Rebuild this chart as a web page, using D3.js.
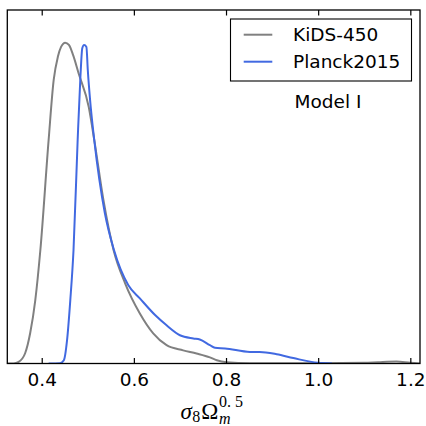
<!DOCTYPE html>
<html><head><meta charset="utf-8">
<script src="https://cdn.jsdelivr.net/npm/d3@7"></script>
<style>html,body{margin:0;padding:0;background:#fff;}</style>
</head><body>
<svg id="c" width="426" height="426"></svg>
<script>
// Data (x: sigma8*Omega_m^0.5, y: normalised posterior)
const kidsX = [0.325,0.339,0.350,0.364,0.375,0.386,0.397,0.415,0.426,0.435,0.442,0.451,0.459,0.468,0.480,0.502,0.514,0.534,0.556,0.581,0.613,0.642,0.671,0.707,0.736,0.765,0.780,0.801,0.852,0.90,1.00,1.10,1.13,1.17,1.20,1.221];
const kidsY = [0,0,0.005,0.032,0.095,0.197,0.353,0.697,0.884,0.956,0.987,1.0,0.993,0.962,0.905,0.800,0.697,0.509,0.353,0.250,0.156,0.094,0.057,0.041,0.031,0.019,0.010,0.004,0.001,0.001,0.001,0.002,0.004,0.006,0.002,0];
const planckX = [0.415,0.440,0.448,0.455,0.462,0.469,0.478,0.484,0.488,0.492,0.497,0.500,0.505,0.514,0.537,0.557,0.588,0.613,0.646,0.671,0.700,0.729,0.743,0.765,0.776,0.798,0.852,0.873,0.910,0.946,1.000,1.030];
const planckY = [0,0.001,0.010,0.073,0.197,0.353,0.697,0.894,0.983,0.993,0.987,0.915,0.821,0.697,0.469,0.353,0.244,0.203,0.151,0.119,0.088,0.078,0.075,0.057,0.049,0.047,0.036,0.036,0.029,0.017,0.002,0];
const xTicks = [0.4,0.6,0.8,1.0,1.2];
const seriesNames = ["KiDS-450","Planck2015"];
const seriesColors = ["#808080","#4169e1"];
const annotation = "Model I";

const svg = d3.select("#c");
const L=7.3, R=420, T=10, B=363.5;
const x = d3.scaleLinear().domain([0.3253,1.221]).range([L,R]);
const y = d3.scaleLinear().domain([0,1.102]).range([B,T]);

const g = svg.append("g");
svg.append("clipPath").attr("id","cl").append("rect").attr("x",L).attr("y",T).attr("width",R-L).attr("height",B-T);

const line = d3.line().x(d=>x(d[0])).y(d=>y(d[1])).curve(d3.curveMonotoneX);
const series = [d3.zip(kidsX,kidsY), d3.zip(planckX,planckY)];
series.forEach((s,i)=>{
  g.append("path").attr("d",line(s)).attr("fill","none")
   .attr("stroke",seriesColors[i]).attr("stroke-width",2).attr("clip-path","url(#cl)")
   .attr("stroke-linejoin","round");
});

// axes (ticks inside, top and bottom)
const fmt = d3.format(".1f");
const axB = d3.axisBottom(x).tickValues(xTicks).tickSize(-5.5).tickPadding(11).tickFormat(fmt);
const axT = d3.axisTop(x).tickValues(xTicks).tickSize(-5.5).tickFormat("");
const gb = svg.append("g").attr("transform",`translate(0,${B})`).call(axB);
const gt = svg.append("g").attr("transform",`translate(0,${T})`).call(axT);
[gb,gt].forEach(a=>{
  a.select(".domain").remove();
  a.selectAll(".tick line").attr("stroke","#000").attr("stroke-width",1.2);
});
gb.selectAll(".tick text").attr("font-family","DejaVu Sans").attr("font-size",18.5).attr("fill","#000").attr("dy",null).attr("y",22.5);

// frame
svg.append("rect").attr("x",L).attr("y",T).attr("width",R-L).attr("height",B-T)
  .attr("fill","none").attr("stroke","#000").attr("stroke-width",1.3);

// legend
const lg = svg.append("g");
lg.append("rect").attr("x",230.5).attr("y",19).attr("width",181).attr("height",62)
  .attr("fill","#fff").attr("stroke","#000").attr("stroke-width",1.1);
seriesNames.forEach((n,i)=>{
  const yy = 34.7 + i*27;
  lg.append("line").attr("x1",243.7).attr("x2",272.3).attr("y1",yy).attr("y2",yy)
    .attr("stroke",seriesColors[i]).attr("stroke-width",2);
  lg.append("text").attr("x",293).attr("y",yy+6.7).text(n)
    .attr("font-family","DejaVu Sans").attr("font-size",18.5).attr("fill","#000");
});
svg.append("text").attr("x",294.5).attr("y",107.7).text(annotation)
  .attr("font-family","DejaVu Sans").attr("font-size",18.5).attr("fill","#000");

// x label: sigma_8 Omega_m^{0.5}
const serif = "Liberation Serif, DejaVu Serif, serif";
const lab = svg.append("text").attr("x",180.5).attr("y",418.5)
  .attr("font-family",serif).attr("font-size",23).attr("fill","#000");
lab.append("tspan").attr("font-style","italic").text("σ");
lab.append("tspan").attr("font-size",16).attr("dy",3.5).attr("dx",0.5).text("8");
lab.append("tspan").attr("dy",-3.5).attr("dx",1).text("Ω");
const bb = lab.node().getBBox();
const ex = bb.x + bb.width + 0.5;
svg.append("text").attr("x",ex).attr("y",406.5)
  .attr("font-family",serif).attr("font-size",16).attr("fill","#000").text("0. 5");
svg.append("text").attr("x",ex).attr("y",424)
  .attr("font-family",serif).attr("font-style","italic").attr("font-size",16).attr("fill","#000").text("m");
</script>
</body></html>
